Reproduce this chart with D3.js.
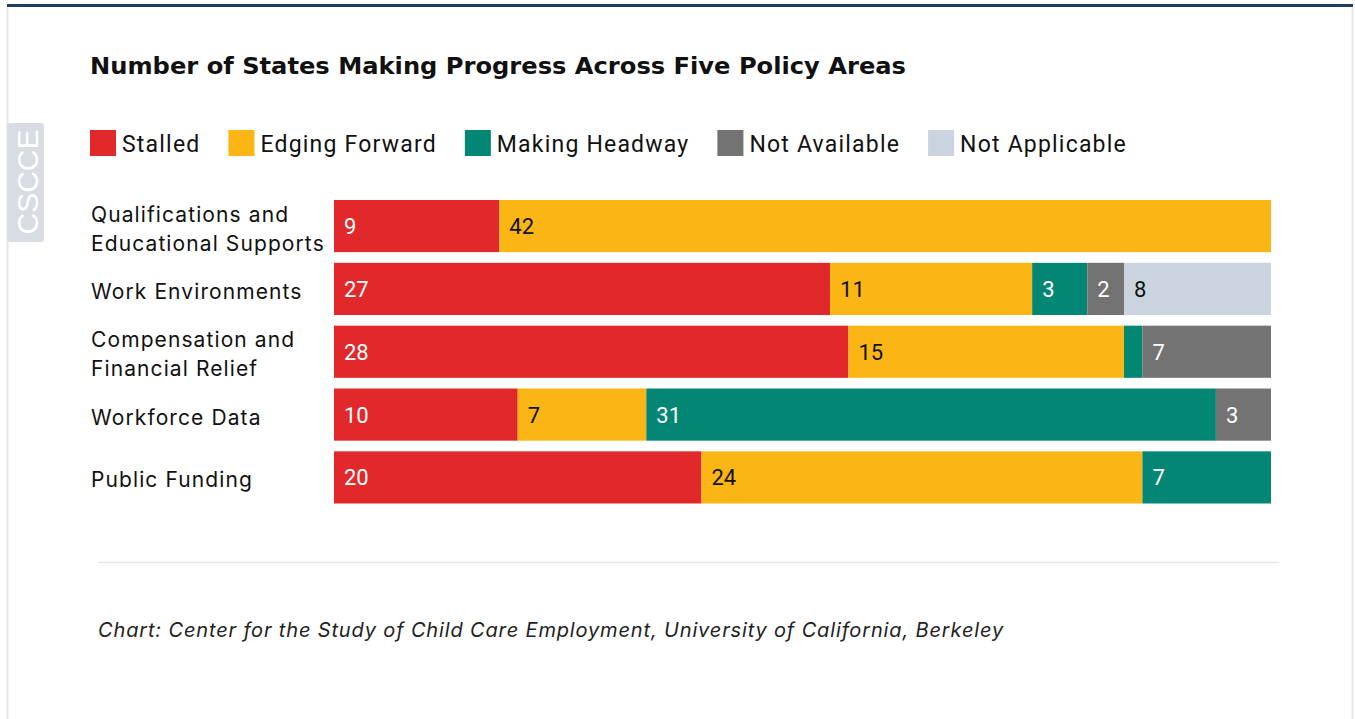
<!DOCTYPE html>
<html><head><meta charset="utf-8">
<script src="https://cdn.jsdelivr.net/npm/d3@7"></script>
<style>body{margin:0;background:#fff;} svg{display:block;}</style>
</head><body>
<svg id="chart" width="1355" height="719"></svg>
<script>
const categories = [
  ["Qualifications and", "Educational Supports"],
  ["Work Environments"],
  ["Compensation and", "Financial Relief"],
  ["Workforce Data"],
  ["Public Funding"]
];
const seriesNames = ["Stalled", "Edging Forward", "Making Headway", "Not Available", "Not Applicable"];
const stalled       = [9, 27, 28, 10, 20];
const edgingForward = [42, 11, 15, 7, 24];
const makingHeadway = [0, 3, 1, 31, 7];
const notAvailable  = [0, 2, 7, 3, 0];
const notApplicable = [0, 8, 0, 0, 0];
const colors = ["#e1282a", "#fbb616", "#038673", "#737373", "#cbd3de"];
const labelColors = ["#fff", "#111", "#fff", "#fff", "#111"];
const title = "Number of States Making Progress Across Five Policy Areas";
const footer = "Chart: Center for the Study of Child Care Employment, University of California, Berkeley";

const series = [stalled, edgingForward, makingHeadway, notAvailable, notApplicable];
const rows = categories.map((c, i) => {
  const o = {key: i};
  seriesNames.forEach((s, j) => o[s] = series[j][i]);
  return o;
});
const stack = d3.stack().keys(seriesNames)(rows);

const svg = d3.select("#chart");
// frame
svg.append("line").attr("x1", 7.5).attr("x2", 7.5).attr("y1", 6).attr("y2", 719).attr("stroke", "#e3e7ec").attr("stroke-width", 2);
svg.append("line").attr("x1", 1352.5).attr("x2", 1352.5).attr("y1", 6).attr("y2", 719).attr("stroke", "#e3e7ec").attr("stroke-width", 2);
svg.append("rect").attr("x", 7).attr("y", 4).attr("width", 1346).attr("height", 3).attr("fill", "#1f3c64");

// side tag
svg.append("rect").attr("x", 7).attr("y", 123).attr("width", 37).attr("height", 119).attr("rx", 3).attr("fill", "#d8dce3");
svg.append("text").attr("transform", "translate(38,182) rotate(-90)").attr("text-anchor", "middle")
  .attr("font-family", "Liberation Sans, Arial, sans-serif").attr("font-size", 30).attr("font-weight", 300)
  .attr("fill", "#fff").text("CSCCE");

// title
svg.append("text").attr("x", 90).attr("y", 74).attr("font-family", "DejaVu Sans, Liberation Sans, sans-serif")
  .attr("font-weight", "bold").attr("font-size", 23).attr("fill", "#111")
  .attr("textLength", 816).attr("lengthAdjust", "spacingAndGlyphs").text(title);

// legend
const legend = svg.append("g").attr("font-family", "Roboto, sans-serif").attr("font-size", 23).attr("letter-spacing", 1.2);
let lx = 90;
seriesNames.forEach((s, j) => {
  legend.append("rect").attr("x", lx).attr("y", 130).attr("width", 26).attr("height", 26).attr("fill", colors[j]);
  const t = legend.append("text").attr("x", lx + 32).attr("y", 152).attr("fill", "#111").text(s);
  lx = lx + 32 + t.node().getComputedTextLength() + 28;
});

// scales
const x = d3.scaleLinear().domain([0, 51]).range([334, 1271]);
const y = d3.scaleBand().domain(d3.range(categories.length)).range([200, 503.5]).paddingInner(0.17).paddingOuter(0);

const g = svg.append("g");
stack.forEach((layer, j) => {
  const lg = g.append("g");
  layer.forEach((d, i) => {
    if (d[1] - d[0] <= 0) return;
    lg.append("rect").attr("x", x(d[0])).attr("y", y(i)).attr("width", x(d[1]) - x(d[0])).attr("height", y.bandwidth()).attr("fill", colors[j]);
    if (d[1] - d[0] >= 2) {
      lg.append("text").attr("x", x(d[0]) + 10).attr("y", y(i) + y.bandwidth() / 2 + 8)
        .attr("font-family", "Roboto, sans-serif").attr("font-size", 22).attr("fill", labelColors[j])
        .text(d[1] - d[0]);
    }
  });
});

// category labels
const cl = svg.append("g").attr("font-family", "Inter, Liberation Sans, sans-serif").attr("font-size", 21)
  .attr("letter-spacing", 1.1).attr("fill", "#111");
categories.forEach((lines, i) => {
  const cy = y(i) + y.bandwidth() / 2;
  const lh = 29;
  lines.forEach((ln, k) => {
    cl.append("text").attr("x", 91).attr("y", cy + 10 + (k - (lines.length - 1) / 2) * lh).text(ln);
  });
});

// separator
svg.append("line").attr("x1", 98).attr("x2", 1279).attr("y1", 562.5).attr("y2", 562.5).attr("stroke", "#e6eaef").attr("stroke-width", 1.5);

// footer
svg.append("text").attr("x", 98).attr("y", 637).attr("font-family", "Inter, Liberation Sans, sans-serif")
  .attr("font-style", "italic").attr("font-size", 20).attr("letter-spacing", 0.85).attr("fill", "#222").text(footer);
</script>
</body></html>
